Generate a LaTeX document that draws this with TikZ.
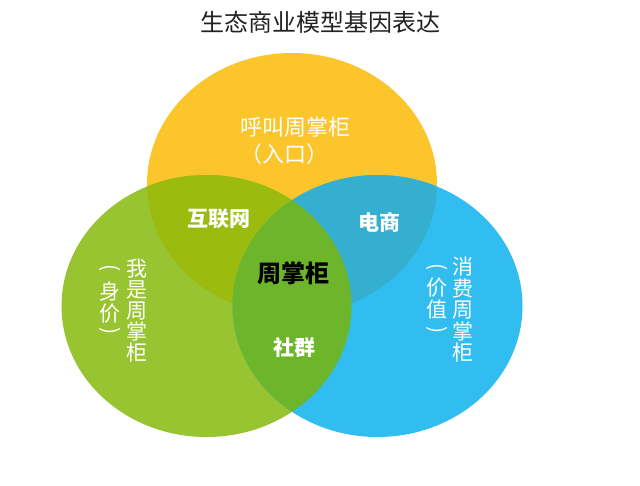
\documentclass[tikz,border=0pt]{standalone}
\usepackage{fontspec}
\newfontfamily\cjk{Noto Sans CJK SC}
\definecolor{cyel}{HTML}{FBC52B}
\definecolor{cgrn}{HTML}{99C432}
\definecolor{cblu}{HTML}{31BDEF}
\definecolor{cyg}{HTML}{9BBB0F}
\definecolor{cyb}{HTML}{35AFCF}
\definecolor{cgb}{HTML}{6DB52B}
\definecolor{ctitle}{HTML}{222222}
\tikzset{
  ell/.style={x radius=145pt, y radius=131pt},
  plain/.style={inner sep=0pt, text=white, font=\cjk\fontsize{22}{26}\selectfont},
  vert/.style={inner sep=0pt, text=white, font=\cjk\fontsize{21}{21}\selectfont},
  vparen/.style={inner sep=0pt, text=white, rotate=-90, font=\cjk\fontsize{21}{21}\selectfont},
  boldlbl/.style={inner sep=0pt, text=white, font=\cjk\bfseries\fontsize{21}{24}\selectfont},
}
\begin{document}
\begin{tikzpicture}[x=1pt,y=-1pt]
\fill[white] (0,0) rectangle (640,485);
\useasboundingbox (0,0) rectangle (640,485);
% circles
\fill[cyel] (292,184) ellipse [ell];
\fill[cgrn] (206.5,306) ellipse [ell];
\fill[cblu] (377.5,306) ellipse [ell];
\begin{scope}
  \clip (292,184) ellipse [ell];
  \fill[cyg] (206.5,306) ellipse [ell];
  \fill[cyb] (377.5,306) ellipse [ell];
\end{scope}
\begin{scope}
  \clip (206.5,306) ellipse [ell];
  \fill[cgb] (377.5,306) ellipse [ell];
\end{scope}
% title
\node[inner sep=0pt, text=ctitle, font=\cjk\fontsize{24}{28}\selectfont] (title) at (320.5,22.5) {生态商业模型基因表达};
% top circle text
\node[plain, anchor=west] (top1) at (240,127.5) {呼叫周掌柜};
\node[plain, anchor=west] (top2) at (240,154) {（入口）};
% overlap labels
\node[boldlbl] (hlw) at (219,219) {互联网};
\node[boldlbl] (ds) at (379,222.5) {电商};
\node[inner sep=0pt, text=black, font=\cjk\bfseries\fontsize{24}{28}\selectfont] (zzg) at (293,273) {周掌柜};
\node[boldlbl] (sq) at (294.5,347) {社群};
% left vertical text
\foreach \ch [count=\i from 0] in {我,是,周,掌,柜}
  \node[vert] (la\i) at (136.5,269+21*\i) {\ch};
\node[vparen] (lbo) at (110,268.5) {(};
\node[vert] (lb1) at (110,292) {身};
\node[vert] (lb2) at (110,313.5) {价};
\node[vparen] (lbc) at (110,331.5) {)};
% right vertical text
\foreach \ch [count=\i from 0] in {消,费,周,掌,柜}
  \node[vert] (ra\i) at (462.5,267+21.5*\i) {\ch};
\node[vparen] (rbo) at (437,267.5) {(};
\node[vert] (rb1) at (437,287.5) {价};
\node[vert] (rb2) at (437,310) {值};
\node[vparen] (rbc) at (437,330) {)};
\end{tikzpicture}
\end{document}
